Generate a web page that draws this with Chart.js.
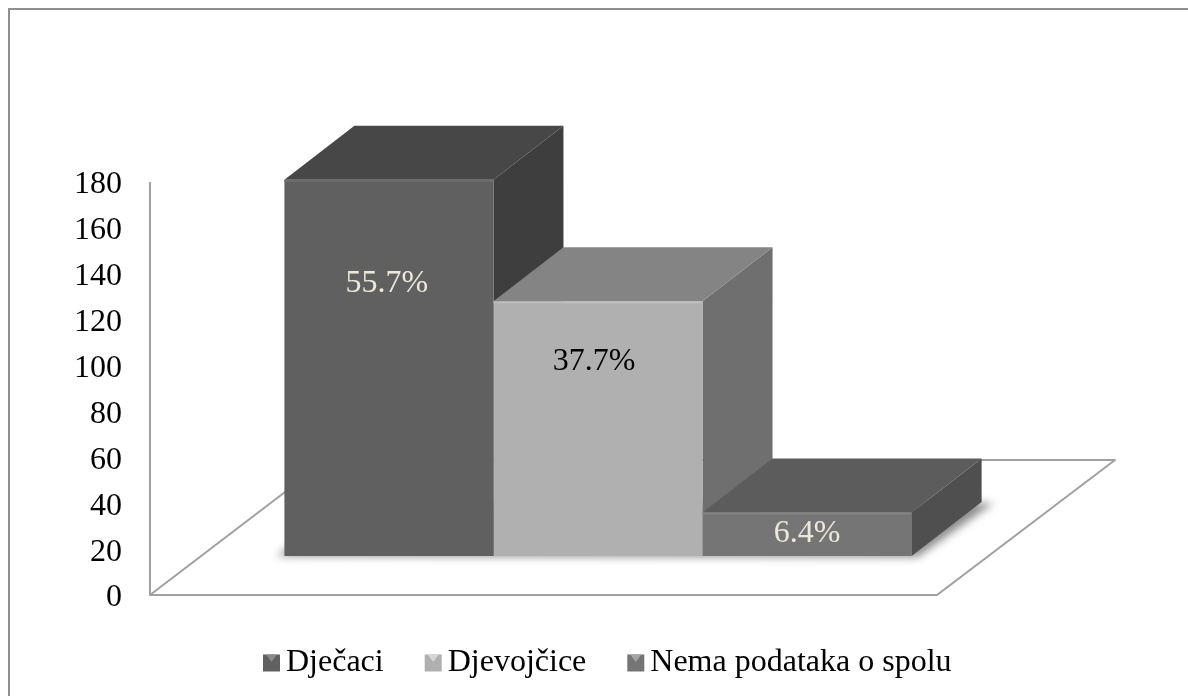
<!DOCTYPE html>
<html><head><meta charset="utf-8">
<style>html,body{margin:0;padding:0;background:#fff}#w{position:absolute;left:0;top:0;width:1188px;height:696px}</style>
<script src="https://cdn.jsdelivr.net/npm/chart.js@4"></script>
</head><body><div id="w"><canvas id="c"></canvas></div>
<script>
const categories = [''];
const seriesNames = ['Dječaci', 'Djevojčice', 'Nema podataka o spolu'];
const boysValues = [164];
const girlsValues = [111];
const unknownValues = [19];
const percentLabels = ['55.7%', '37.7%', '6.4%'];
const percentColors = ['#ebe9de', '#000000', '#ebe9de'];
const percentHeightShare = [0.275, 0.235, 0.48];
const percentShift = [-2, -4, 0];
const yTicks = [0, 20, 40, 60, 80, 100, 120, 140, 160, 180];
const frontColors = ['#606060', '#b0b0b0', '#757575'];
const topColors = ['#474747', '#848484', '#5c5c5c'];
const sideColors = ['#3e3e3e', '#6f6f6f', '#4f4f4f'];
const edgeColors = ['#6e6e6e', '#bdbdbd', '#848484'];
const markerLight = ['#8a8a8a', '#d6d6d6', '#a4a4a4'];
const FONT = '"Liberation Serif", "Times New Roman", serif';
const FONT_SIZE = 32;
const DX = 70, DY = 54;
const AXIS = '#a0a0a0';

const bars3d = {
  id: 'bars3d',
  afterLayout(chart) {
    const lg = chart.legend;
    const w = lg.right - lg.left;
    lg.left = 263 - 41;
    lg.right = lg.left + w;
    lg.top = 606;
  },
  beforeDraw(chart) {
    const {ctx, chartArea: a} = chart;
    ctx.save();
    ctx.fillStyle = '#fff'; ctx.fillRect(0, 0, chart.width, chart.height);
    ctx.strokeStyle = '#8e8e8e'; ctx.lineWidth = 2;
    ctx.beginPath();
    ctx.moveTo(9, chart.height); ctx.lineTo(9, 9); ctx.lineTo(chart.width, 9);
    ctx.stroke();
    ctx.strokeStyle = AXIS; ctx.lineWidth = 2;
    ctx.lineJoin = 'round';
    ctx.beginPath();
    ctx.moveTo(a.left, a.top);
    ctx.lineTo(a.left, a.bottom);
    ctx.lineTo(a.right - 109, a.bottom);
    ctx.lineTo(a.right + 69, a.bottom - 135);
    ctx.lineTo(a.left + 177, a.bottom - 135);
    ctx.lineTo(a.left, a.bottom);
    ctx.stroke();
    ctx.restore();
  },
  beforeDatasetsDraw(chart) {
    const {ctx} = chart;
    ctx.save();
    const first = chart.getDatasetMeta(0).data[0];
    const last = chart.getDatasetMeta(2).data[0];
    const b = first.base;
    const l = first.x - first.width / 2, r = last.x + last.width / 2;
    ctx.filter = 'blur(4px)';
    ctx.fillStyle = 'rgba(0,0,0,.45)';
    ctx.beginPath();
    ctx.moveTo(l - 8, b); ctx.lineTo(r + 6, b + 1);
    ctx.lineTo(r + DX + 12, b - DY + 1); ctx.lineTo(l + DX, b - DY);
    ctx.closePath(); ctx.fill();
    ctx.filter = 'none';
    chart.data.datasets.forEach((d, i) => {
      const el = chart.getDatasetMeta(i).data[0];
      const x0 = el.x - el.width / 2, x1 = el.x + el.width / 2, t = el.y, bb = el.base;
      ctx.fillStyle = sideColors[i];
      ctx.beginPath(); ctx.moveTo(x1, t); ctx.lineTo(x1 + DX, t - DY); ctx.lineTo(x1 + DX, bb - DY); ctx.lineTo(x1, bb); ctx.closePath(); ctx.fill();
      ctx.fillStyle = topColors[i];
      ctx.beginPath(); ctx.moveTo(x0, t); ctx.lineTo(x0 + DX, t - DY); ctx.lineTo(x1 + DX, t - DY); ctx.lineTo(x1, t); ctx.closePath(); ctx.fill();
    });
    ctx.restore();
  },
  afterDatasetsDraw(chart) {
    const {ctx} = chart;
    ctx.save();
    ctx.font = FONT_SIZE + 'px ' + FONT;
    ctx.textAlign = 'center'; ctx.textBaseline = 'middle';
    chart.data.datasets.forEach((d, i) => {
      const el = chart.getDatasetMeta(i).data[0];
      const x0 = el.x - el.width / 2;
      ctx.fillStyle = edgeColors[i];
      ctx.fillRect(x0, el.y, el.width, 2);
      ctx.fillStyle = percentColors[i];
      ctx.fillText(percentLabels[i], el.x + percentShift[i], el.y + (el.base - el.y) * percentHeightShare[i]);
    });
    ctx.restore();
  },
  afterDraw(chart) {
    const {ctx} = chart;
    const lg = chart.legend;
    ctx.save();
    lg.legendHitBoxes.forEach((h, i) => {
      const s = 17, x = h.left, y = h.top + (h.height - s) / 2;
      ctx.fillStyle = frontColors[i];
      ctx.fillRect(x, y, s, s);
      ctx.fillStyle = markerLight[i];
      ctx.beginPath(); ctx.moveTo(x + 3, y); ctx.lineTo(x + s - 3, y); ctx.lineTo(x + s / 2, y + s / 2 - 1); ctx.closePath(); ctx.fill();
    });
    ctx.restore();
  }
};

new Chart(document.getElementById('c'), {
  type: 'bar',
  data: {
    labels: categories,
    datasets: [boysValues, girlsValues, unknownValues].map((v, i) => ({
      label: seriesNames[i], data: v, yAxisID: 'y2',
      backgroundColor: frontColors[i], borderWidth: 0, clip: false
    }))
  },
  plugins: [bars3d],
  options: {
    responsive: true, maintainAspectRatio: false, animation: false,
    layout: {padding: {left: 0, right: 142, top: 182, bottom: 10}},
    datasets: {bar: {categoryPercentage: .7, barPercentage: 1}},
    scales: {
      x: {grid: {display: false}, border: {display: false}, ticks: {display: false}},
      y: {
        min: 0, max: 180, afterFit(s) { s.width = 150; },
        afterBuildTicks(s) { s.ticks = yTicks.map(value => ({value})); },
        grid: {display: false, drawTicks: false}, border: {display: false},
        ticks: {color: '#000', font: {family: FONT, size: FONT_SIZE}, padding: 28, labelOffset: 3}
      },
      y2: {min: -17, max: 163, display: false}
    },
    plugins: {
      tooltip: {enabled: false},
      legend: {
        position: 'bottom', align: 'start', maxHeight: 101,
        labels: {
          color: '#000', font: {family: FONT, size: FONT_SIZE}, boxWidth: 7, boxHeight: 17, padding: 41,
          generateLabels(chart) {
            return chart.data.datasets.map((d, i) => ({
              text: d.label, fillStyle: 'rgba(0,0,0,0)', strokeStyle: 'rgba(0,0,0,0)', lineWidth: 0,
              fontColor: '#000', datasetIndex: i, hidden: false
            }));
          }
        }
      }
    }
  }
});
</script></body></html>
